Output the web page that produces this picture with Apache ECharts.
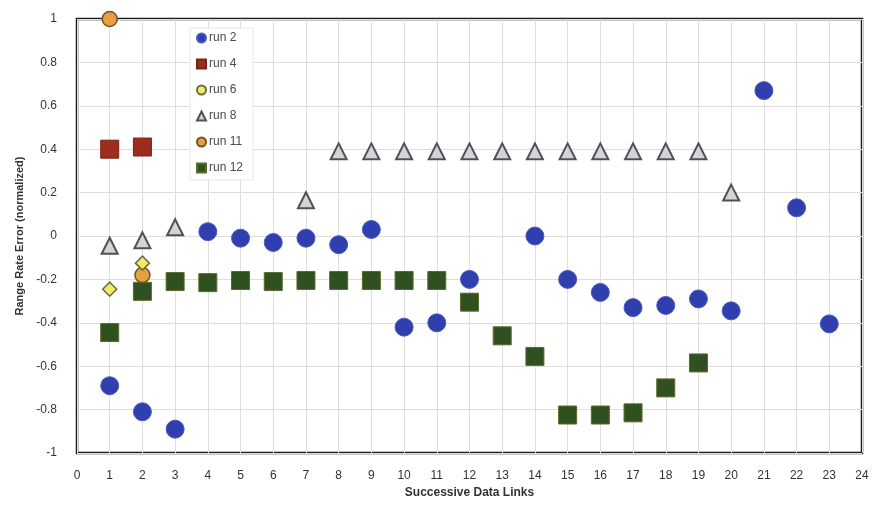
<!DOCTYPE html>
<html>
<head>
<meta charset="utf-8">
<script src="https://cdn.jsdelivr.net/npm/echarts@6/dist/echarts.min.js"></script>
<style>
  html, body { margin: 0; padding: 0; background: #fff; }
  #chart { width: 877px; height: 517px; }
</style>
</head>
<body>
<div id="chart"></div>
<script>
// Range rate error per data link, for several runs
const xTicks = [0,1,2,3,4,5,6,7,8,9,10,11,12,13,14,15,16,17,18,19,20,21,22,23,24];
const yTicks = [-1,-0.8,-0.6,-0.4,-0.2,0,0.2,0.4,0.6,0.8,1];

const run2Links  = [1,2,3,4,5,6,7,8,9,10,11,12,14,15,16,17,18,19,20,21,22,23];
const run2Values = [-0.69,-0.81,-0.89,0.02,-0.01,-0.03,-0.01,-0.04,0.03,-0.42,-0.40,-0.20,0.00,-0.20,-0.26,-0.33,-0.32,-0.29,-0.345,0.67,0.13,-0.405];

const run4Links  = [1,2];
const run4Values = [0.40,0.41];

const run6Links  = [1,2];
const run6Values = [-0.245,-0.125];

const run8Links  = [1,2,3,7,8,9,10,11,12,13,14,15,16,17,18,19,20];
const run8Values = [-0.045,-0.02,0.04,0.165,0.39,0.39,0.39,0.39,0.39,0.39,0.39,0.39,0.39,0.39,0.39,0.39,0.20];

const run11Links  = [1,2];
const run11Values = [1.0,-0.18];

const run12Links  = [1,2,3,4,5,6,7,8,9,10,11,12,13,14,15,16,17,18,19];
const run12Values = [-0.445,-0.255,-0.21,-0.215,-0.205,-0.21,-0.205,-0.205,-0.205,-0.205,-0.205,-0.305,-0.46,-0.555,-0.825,-0.825,-0.815,-0.70,-0.585];

function pairs(xs, ys) { return xs.map((x, i) => [x, ys[i]]); }

const chart = echarts.init(document.getElementById('chart'), null, { renderer: 'canvas' });

function scatter(name, xs, ys, symbol, size, fill, border, bw, z) {
  return {
    name, type: 'scatter', data: pairs(xs, ys), symbol, symbolSize: size,
    clip: false, z: z || 2,
    itemStyle: { color: fill, borderColor: border, borderWidth: bw, opacity: 1 },
    emphasis: { disabled: true }
  };
}

chart.setOption({
  animation: false,
  backgroundColor: '#ffffff',
  textStyle: { fontFamily: 'Liberation Sans, Arial, sans-serif' },
  grid: {
    left: 77, right: 15, top: 19, bottom: 64,
    show: true, borderColor: '#1a1a1a', borderWidth: 2.5, backgroundColor: 'transparent'
  },
  legend: {
    orient: 'vertical', left: 190, top: 28,
    itemWidth: 9, itemHeight: 9, itemGap: 14,
    backgroundColor: '#ffffff', borderColor: '#e6e6e6', borderWidth: 1,
    padding: [4, 10, 6, 6],
    textStyle: { fontSize: 12, color: '#4a4a4a', padding: [0, 0, 0, -2] },
    data: [
      { name: 'run 2', icon: 'circle' },
      { name: 'run 4', icon: 'rect' },
      { name: 'run 6', icon: 'circle' },
      { name: 'run 8', icon: 'triangle' },
      { name: 'run 11', icon: 'circle' },
      { name: 'run 12', icon: 'rect' }
    ]
  },
  xAxis: {
    type: 'value', min: 0, max: 24, interval: 1,
    name: 'Successive Data Links', nameLocation: 'middle', nameGap: 31,
    nameTextStyle: { fontSize: 12, fontWeight: 'bold', color: '#333' },
    axisLine: { show: false },
    axisTick: { show: false },
    axisLabel: { fontSize: 12, color: '#333', margin: 17,
      formatter: v => xTicks.includes(v) ? String(v) : '' },
    splitLine: { show: true, lineStyle: { color: '#dedede', width: 1 } }
  },
  yAxis: {
    type: 'value', min: -1, max: 1, interval: 0.2,
    name: 'Range Rate Error (normalized)', nameLocation: 'middle', nameGap: 52,
    nameTextStyle: { fontSize: 11, fontWeight: 'bold', color: '#333' },
    axisLine: { show: false },
    axisTick: { show: false },
    axisLabel: { fontSize: 12, color: '#333', margin: 20,
      formatter: v => {
        const t = yTicks.find(k => Math.abs(k - v) < 1e-6);
        return t === undefined ? '' : String(t);
      } },
    splitLine: { show: true, lineStyle: { color: '#dedede', width: 1 } }
  },
  series: [
    scatter('run 2', run2Links, run2Values, 'circle', 18, '#2f3fae', '#4a5ac0', 1, 3),
    scatter('run 4', run4Links, run4Values, 'rect', 18, '#9c2d1c', '#7a2416', 1, 3),
    scatter('run 6', run6Links, run6Values, 'diamond', 14, '#f1ec63', '#6b6b45', 1.5, 5),
    scatter('run 8', run8Links, run8Values, 'triangle', 16, '#d4d4d6', '#505058', 2, 4),
    scatter('run 11', run11Links, run11Values, 'circle', 15, '#e6a040', '#6e5624', 1.5, 4),
    scatter('run 12', run12Links, run12Values, 'rect', 18, '#2f5120', '#5c6a2a', 1, 3)
  ]
});
</script>
</body>
</html>
